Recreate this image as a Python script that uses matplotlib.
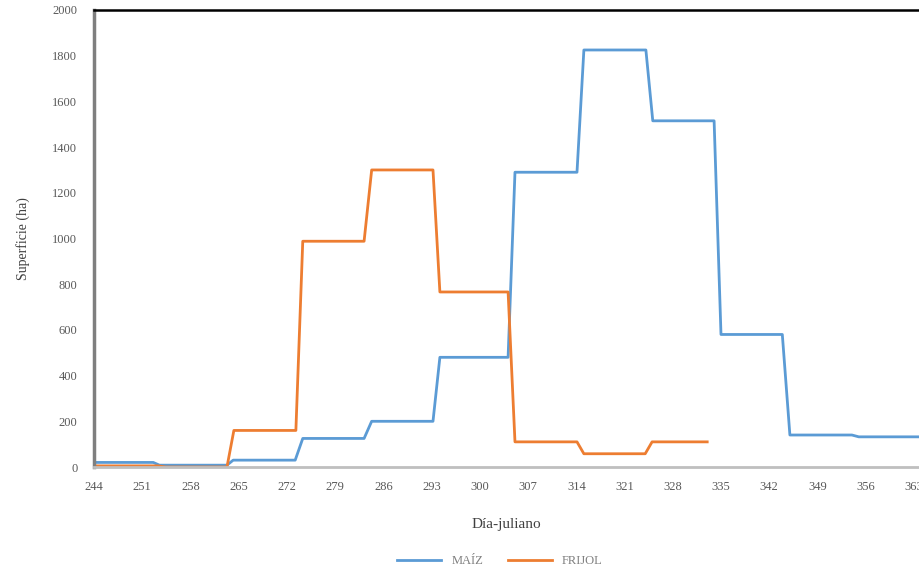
import matplotlib.pyplot as plt
import numpy as np

plt.rcParams['font.family'] = ['Liberation Serif', 'DejaVu Serif']

# vertices of the step lines (day-juliano, surface in ha)
maiz_days = [244, 252.6, 253.5, 263.3, 264.2, 273.2, 274.3, 283.2, 284.3, 293.2, 294.2,
             304.1, 305.1, 314.1, 315.1, 324.1, 325.1, 334.0, 335.0, 343.9, 345.0, 354.0, 355.0, 364]
maiz_ha = [20, 20, 8, 8, 30, 30, 125, 125, 200, 200, 480,
           480, 1290, 1290, 1825, 1825, 1515, 1515, 580, 580, 140, 140, 132, 132]

frijol_days = [244, 253.3, 254.4, 263.3, 264.3, 273.3, 274.3, 283.2, 284.3, 293.2, 294.2,
               304.1, 305.1, 314.1, 315.1, 324.0, 325.0, 333.0]
frijol_ha = [5, 5, 0, 0, 160, 160, 988, 988, 1300, 1300, 766,
             766, 110, 110, 58, 58, 110, 110]

x_ticks = np.arange(244, 364, 7)
y_ticks = np.arange(0, 2001, 200)

fig = plt.figure(figsize=(9.19, 5.71), dpi=100)
ax = fig.add_axes([94 / 919, 1 - 467 / 571, 1 - 94 / 919, (467 - 10) / 571])

ax.plot(maiz_days, maiz_ha, color='#5B9BD5', linewidth=2.0, label='MAÍZ')
ax.plot(frijol_days, frijol_ha, color='#ED7D31', linewidth=2.0, label='FRIJOL')

ax.set_xlim(244, 244 + (919 - 94) / 6.89)
ax.set_ylim(0, 2000)
ax.set_xticks(x_ticks)
ax.set_yticks(y_ticks)
ax.tick_params(length=0, labelsize=9, colors='#595959')
ax.tick_params(axis='x', pad=10)
ax.tick_params(axis='y', pad=12)

ax.spines['right'].set_visible(False)
ax.spines['top'].set_color('black')
ax.spines['top'].set_linewidth(1.8)
ax.spines['left'].set_color('#7f7f7f')
ax.spines['left'].set_linewidth(2.5)
ax.spines['bottom'].set_color('#bfbfbf')
ax.spines['bottom'].set_linewidth(2)

ax.set_xlabel('Día-juliano', fontsize=11, color='#404040', labelpad=18)
ax.set_ylabel('Superficie (ha)', fontsize=10, color='#404040', labelpad=16)

fig.legend(loc='center', bbox_to_anchor=(500 / 919, 1 - 561 / 571), ncol=2, frameon=False,
           fontsize=9, labelcolor='#7f7f7f', handlelength=3.5, columnspacing=2)

fig.savefig('out.png', dpi=100)
